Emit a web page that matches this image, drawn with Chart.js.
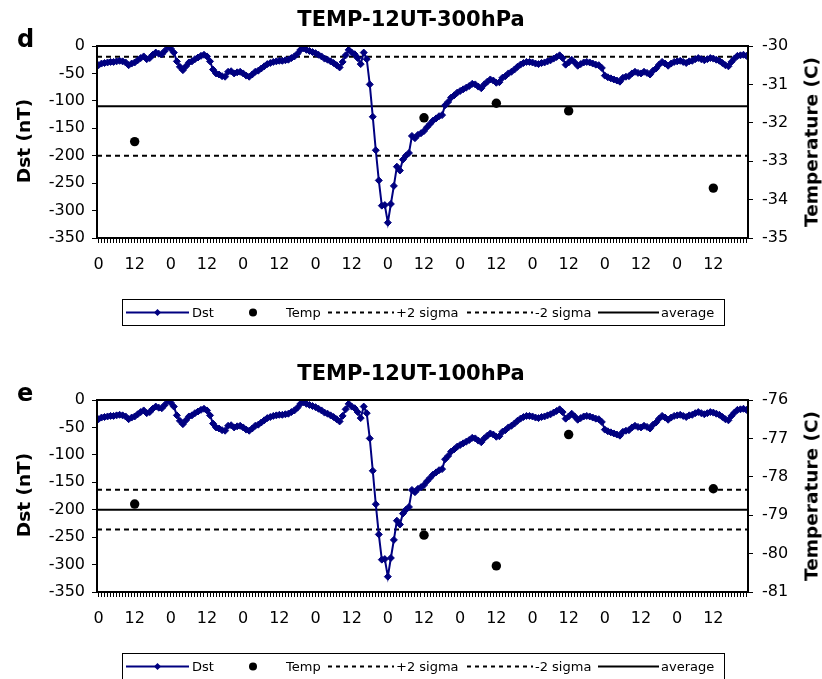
<!DOCTYPE html>
<html>
<head>
<meta charset="utf-8">
<script src="https://cdn.jsdelivr.net/npm/chart.js@4.4.1/dist/chart.umd.min.js"></script>
<style>
  html, body { margin: 0; padding: 0; background: #fff; overflow: hidden; }
  body { width: 822px; height: 679px; position: relative; font-family: "DejaVu Sans", sans-serif; color: #000; }
  .panel { position: absolute; left: 0; width: 822px; height: 353px; }
  .panel canvas { position: absolute; left: 0; top: 0; }
  .letter { position: absolute; left: 17px; top: 25px; font: bold 24px "DejaVu Sans"; }
  .ytitle { position: absolute; font: bold 18.5px "DejaVu Sans"; white-space: nowrap; transform: translate(-50%, -50%) rotate(-90deg); }
  .legend { position: absolute; left: 122px; top: 299px; width: 601px; height: 25px; border: 1px solid #000; font: 13px "DejaVu Sans"; line-height: 25px; }
  .legend span, .legend svg { position: absolute; top: 0; }
</style>
</head>
<body>

<div class="panel" id="panelD" style="top:0">
  <canvas id="chartD" width="822" height="353"></canvas>
  <div class="letter">d</div>
  <div class="ytitle" style="left:23px; top:141px">Dst (nT)</div>
  <div class="ytitle" style="left:811px; top:142px">Temperature (C)</div>
  <div class="legend"></div>
</div>

<div class="panel" id="panelE" style="top:354px">
  <canvas id="chartE" width="822" height="353"></canvas>
  <div class="letter">e</div>
  <div class="ytitle" style="left:23px; top:141px">Dst (nT)</div>
  <div class="ytitle" style="left:811px; top:142px">Temperature (C)</div>
  <div class="legend"></div>
</div>

<script>
// hourly Dst, 9 days starting at 0 UT
const dst = [
  -35, -32, -31, -30, -29, -29, -28, -27, -28, -30, -35, -32,
  -30, -26, -22, -19, -24, -22, -16, -12, -14, -15, -9, -1,
  -5, -12, -28, -38, -44, -37, -30, -28, -24, -21, -18, -16,
  -19, -28, -43, -50, -52, -55, -56, -47, -46, -50, -48, -47,
  -50, -54, -56, -52, -47, -45, -41, -37, -33, -31, -29, -28,
  -27, -27, -26, -25, -22, -19, -14, -7, -4, -7, -9, -11,
  -13, -16, -19, -23, -25, -28, -31, -35, -39, -29, -17, -7,
  -12, -15, -22, -33, -12, -24, -70, -129, -190, -245, -291, -290,
  -322, -288, -255, -220, -227, -207, -200, -195, -164, -168, -162, -159,
  -155, -148, -142, -136, -132, -128, -126, -108, -102, -94, -90, -85,
  -82, -79, -76, -73, -69, -70, -74, -77, -70, -65, -61, -63,
  -67, -66, -58, -55, -50, -47, -43, -38, -34, -31, -29, -29,
  -30, -32, -33, -31, -30, -28, -26, -23, -20, -17, -22, -34,
  -30, -25, -30, -36, -33, -30, -29, -30, -32, -34, -35, -40,
  -54, -57, -59, -61, -63, -65, -58, -56, -55, -50, -47, -49,
  -50, -47, -49, -52, -45, -41, -34, -29, -32, -36, -32, -29,
  -28, -27, -29, -31, -28, -27, -24, -22, -24, -26, -24, -22,
  -23, -25, -27, -31, -35, -37, -29, -23, -18, -17, -16, -18
];
const hours = dst.map((v, i) => i);

// temperature at 12 UT
const tempHours = [12, 108, 132, 156, 204];
const temp300 = [-32.49, -31.87, -31.49, -31.69, -33.70];
const temp100 = [-78.71, -79.52, -80.32, -76.90, -78.31];

// +2 sigma, average, -2 sigma
const lines300 = [-30.28, -31.57, -32.86];
const lines100 = [-78.34, -78.86, -79.37];

const dstTicks = [0, -50, -100, -150, -200, -250, -300, -350];

Chart.defaults.font.family = '"DejaVu Sans", sans-serif';
Chart.defaults.color = '#000';

const frame = {
  id: 'frame',
  afterDatasetsDraw(chart) {
    const a = chart.chartArea, ctx = chart.ctx;
    ctx.save();
    ctx.strokeStyle = '#000';
    ctx.lineWidth = 2;
    ctx.strokeRect(a.left, a.top, a.right - a.left, a.bottom - a.top);
    ctx.restore();
  }
};

function hline(y, label, dash) {
  const x0 = -0.5, x1 = hours.length - 0.5;
  return {
    label: label, yAxisID: 'y1',
    data: [{ x: x0, y: y }, { x: x1, y: y }],
    borderColor: '#000', borderWidth: 2, borderDash: dash,
    pointRadius: 0, fill: false
  };
}

function makeChart(id, title, temps, lines, tMin, tMax) {
  new Chart(document.getElementById(id), {
    type: 'line',
    data: {
      datasets: [
        {
          label: 'Dst', yAxisID: 'y',
          data: hours.map(h => ({ x: h, y: dst[h] })),
          borderColor: '#000080', backgroundColor: '#000080',
          borderWidth: 2, pointStyle: 'rectRot', pointRadius: 3.5, pointBorderWidth: 1
        },
        {
          label: 'Temp', yAxisID: 'y1', showLine: false,
          data: tempHours.map((h, i) => ({ x: h, y: temps[i] })),
          backgroundColor: '#000', borderColor: '#000', pointRadius: 4.7, pointBorderWidth: 0
        },
        hline(lines[0], '+2 sigma', [5, 4]),
        hline(lines[2], '-2 sigma', [5, 4]),
        hline(lines[1], 'average', [])
      ]
    },
    options: {
      responsive: false,
      animation: false,
      devicePixelRatio: 1,
      layout: { padding: 0 },
      elements: { line: { tension: 0 } },
      plugins: {
        legend: { display: false },
        tooltip: { enabled: false },
        title: {
          display: true, text: title,
          font: { size: 21, weight: 'bold' },
          padding: { top: 8, bottom: 12.8 }
        }
      },
      scales: {
        x: {
          type: 'linear', min: -0.5, max: hours.length - 0.5,
          afterBuildTicks: s => { s.ticks = hours.map(h => ({ value: h })); },
          afterFit: s => { s.height = 115; },
          ticks: {
            autoSkip: false, maxRotation: 0, minRotation: 0, padding: 12,
            font: { size: 16 },
            callback: v => (v % 12 === 0 ? String(v % 24) : '')
          },
          grid: { drawOnChartArea: false, tickLength: 5, color: '#000', lineWidth: 1 },
          border: { color: '#000', width: 2 }
        },
        y: {
          position: 'left', min: -350, max: 0,
          afterBuildTicks: s => { s.ticks = dstTicks.map(v => ({ value: v })); },
          afterFit: s => { s.width = 97; },
          ticks: { padding: 7, font: { size: 16 } },
          grid: { drawOnChartArea: false, tickLength: 5, color: '#000', lineWidth: 1 },
          border: { color: '#000', width: 2 }
        },
        y1: {
          position: 'right', min: tMin, max: tMax,
          ticks: { stepSize: 1, padding: 9, font: { size: 16 } },
          afterFit: s => { s.width = 74; },
          grid: { drawOnChartArea: false, tickLength: 5, color: '#000', lineWidth: 1 },
          border: { color: '#000', width: 2 }
        }
      }
    },
    plugins: [frame]
  });
}

function fillLegend(box) {
  const svgNS = 'http://www.w3.org/2000/svg';
  const dashLine = (w, dash, color) =>
    `<line x1="0" y1="12.5" x2="${w}" y2="12.5" stroke="${color}" stroke-width="2" ${dash ? 'stroke-dasharray="' + dash + '"' : ''}/>`;
  box.innerHTML =
    `<svg style="left:3px" width="63" height="25" xmlns="${svgNS}">${dashLine(63, '', '#000080')}` +
      `<polygon points="31.5,9 35,12.5 31.5,16 28,12.5" fill="#000080"/></svg>` +
    `<span style="left:69px">Dst</span>` +
    `<svg style="left:125px" width="10" height="25" xmlns="${svgNS}"><circle cx="5" cy="12.5" r="4" fill="#000"/></svg>` +
    `<span style="left:163px">Temp</span>` +
    `<svg style="left:205px" width="66" height="25" xmlns="${svgNS}">${dashLine(66, '4,4', '#000')}</svg>` +
    `<span style="left:273px">+2 sigma</span>` +
    `<svg style="left:344px" width="66" height="25" xmlns="${svgNS}">${dashLine(66, '4,4', '#000')}</svg>` +
    `<span style="left:412px">-2 sigma</span>` +
    `<svg style="left:475px" width="61" height="25" xmlns="${svgNS}">${dashLine(61, '', '#000')}</svg>` +
    `<span style="left:538px">average</span>`;
}

makeChart('chartD', 'TEMP-12UT-300hPa', temp300, lines300, -35, -30);
makeChart('chartE', 'TEMP-12UT-100hPa', temp100, lines100, -81, -76);
document.querySelectorAll('.legend').forEach(fillLegend);
</script>
</body>
</html>
